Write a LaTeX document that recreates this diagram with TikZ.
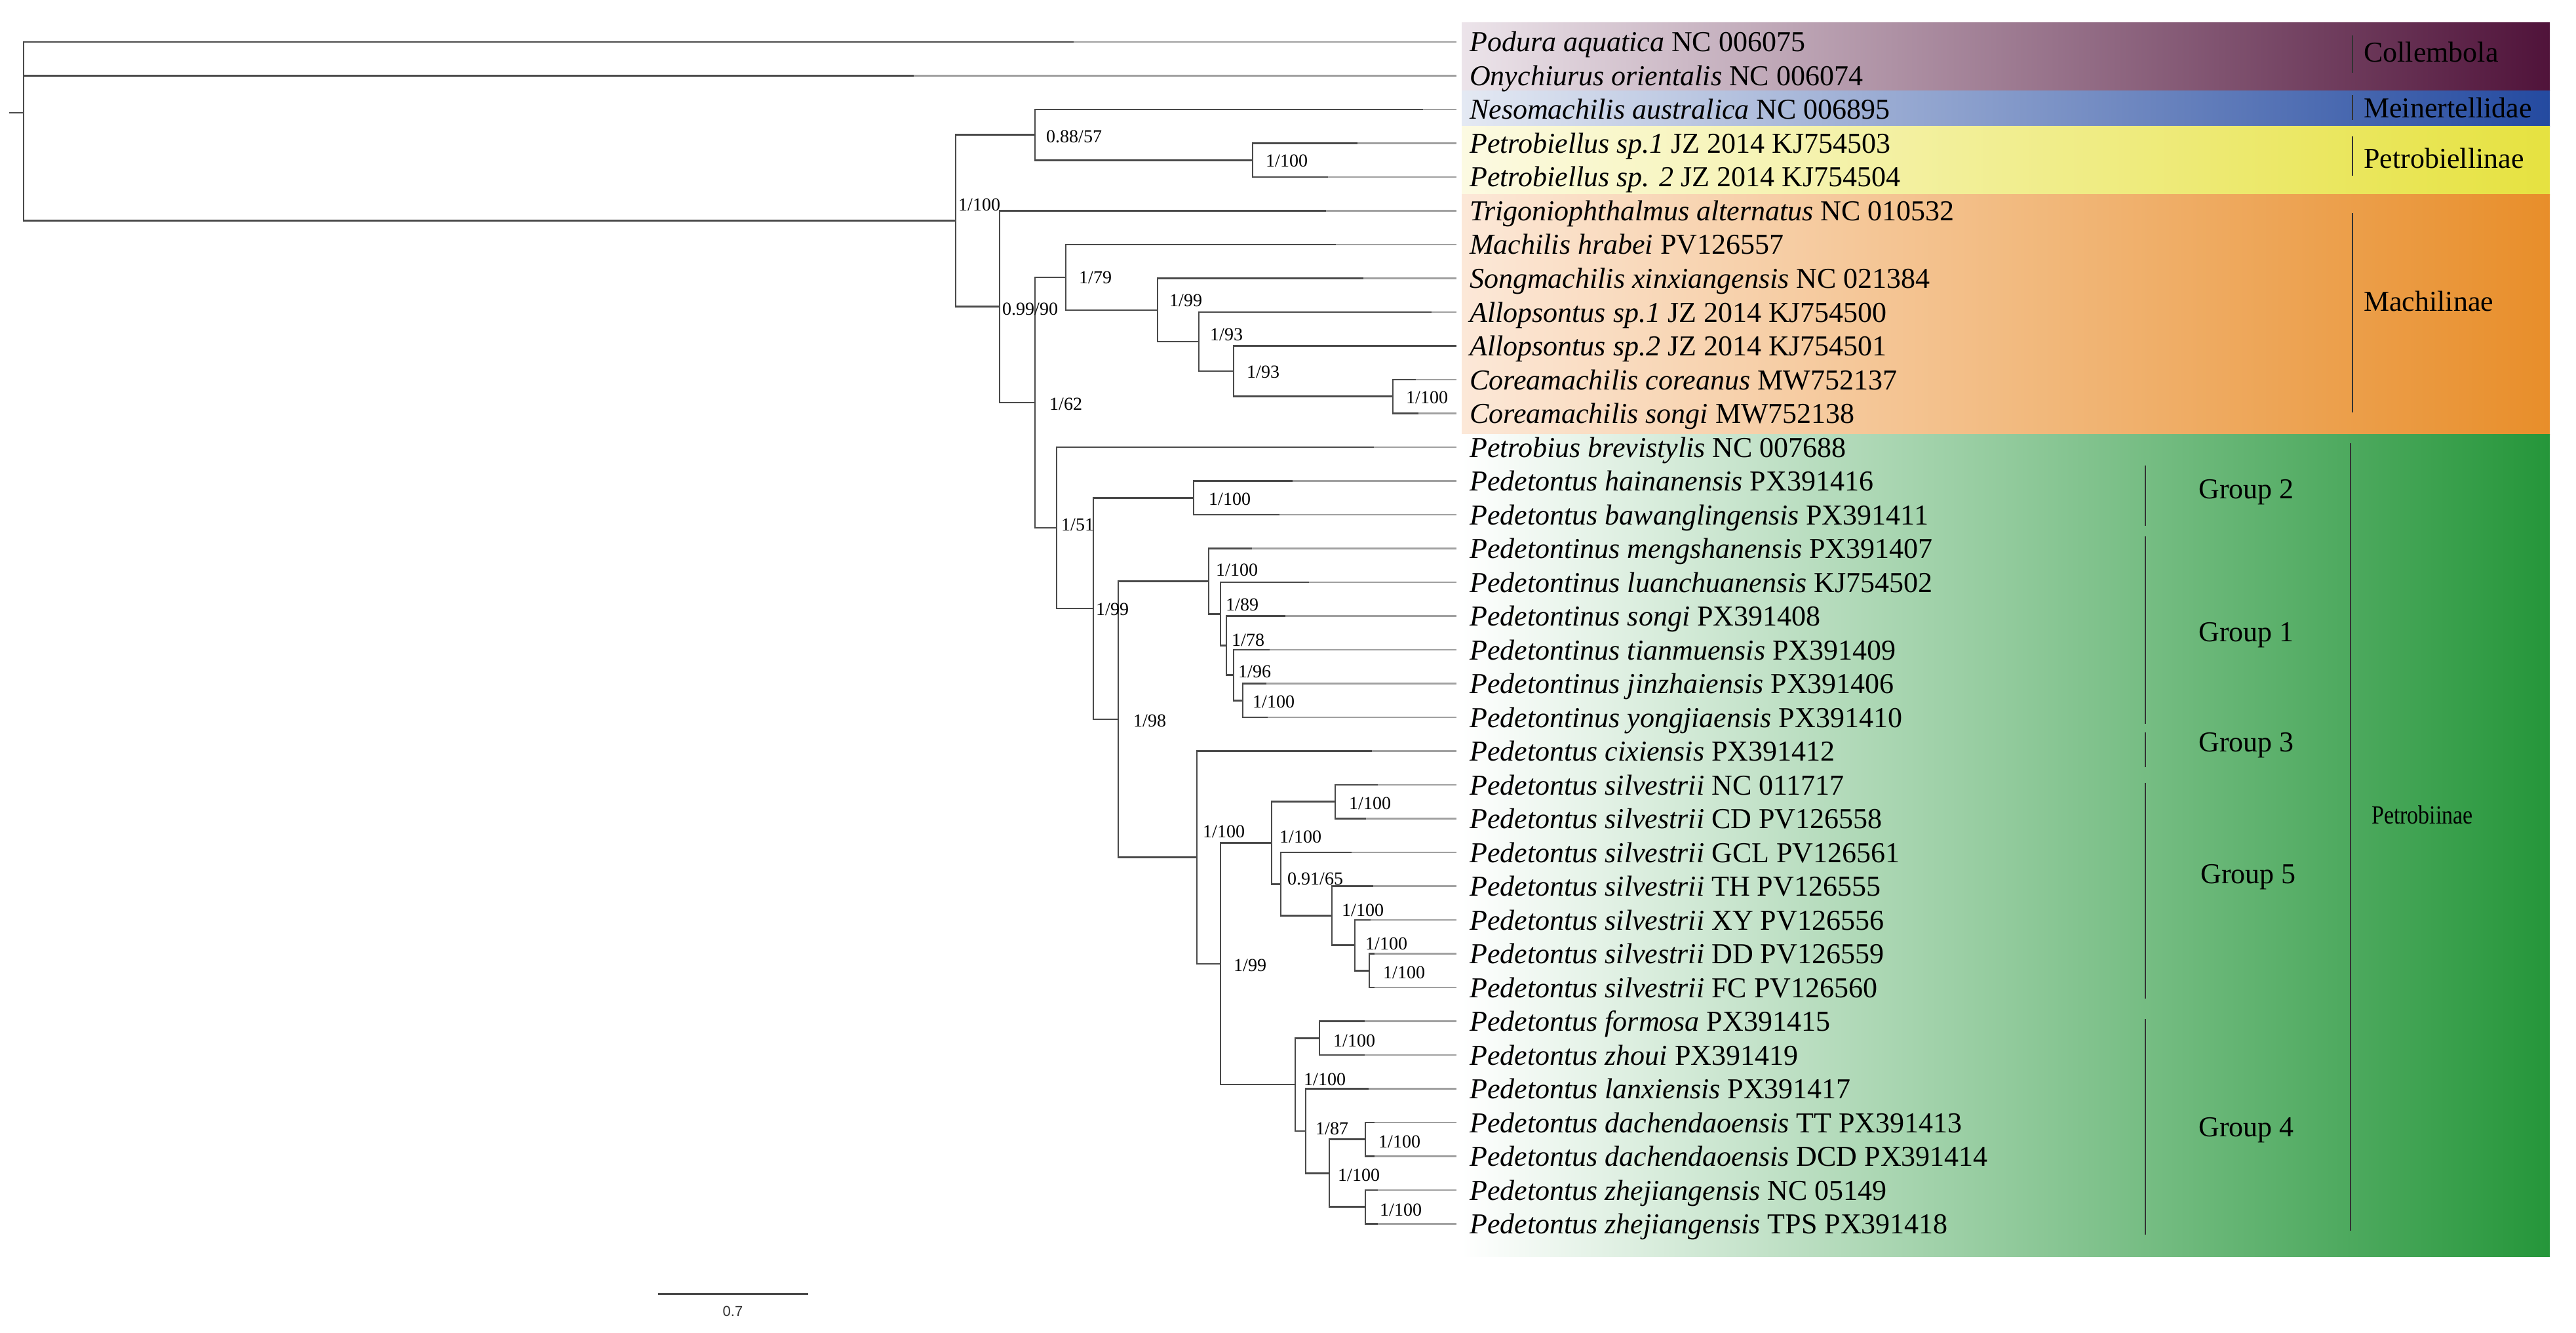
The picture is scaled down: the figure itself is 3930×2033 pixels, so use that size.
\documentclass[tikz,border=0pt]{standalone}
\usepackage{fontspec}
\setmainfont{Liberation Serif}
\newfontfamily\sansf{Liberation Sans}
\definecolor{brc}{HTML}{4A4A4A}
\definecolor{extc}{HTML}{A0A0A0}
\definecolor{colL}{HTML}{ECE4EA}\definecolor{colR}{HTML}{50133A}
\definecolor{meiL}{HTML}{E4E9F3}\definecolor{meiR}{HTML}{244AA0}
\definecolor{pblL}{HTML}{FCFAE2}\definecolor{pblR}{HTML}{E6E240}
\definecolor{macL}{HTML}{FCE8D8}\definecolor{macR}{HTML}{E88E2A}
\definecolor{ptbL}{HTML}{FFFFFF}\definecolor{ptbR}{HTML}{25963A}
\tikzset{
  br/.style={draw=brc,line width=2.6pt,line cap=rect},
  ext/.style={draw=extc,line width=2.4pt},
  taxon/.style={anchor=base west,inner xsep=20pt,inner ysep=0pt,font=\fontsize{44}{50}\selectfont},
  bsup/.style={anchor=west,inner sep=0pt,font=\fontsize{28}{32}\selectfont},
  cbar/.style={draw=black!80,line width=2pt},
  clab/.style={anchor=base west,inner sep=0pt,font=\fontsize{44}{50}\selectfont},
  glab/.style={anchor=base,inner sep=0pt,font=\fontsize{44}{50}\selectfont},
  sbar/.style={draw=brc,line width=3pt},
}
\newcommand\mytip[5]{%
  \coordinate (#1) at (#3,#2);
  \node[taxon] (#1l) at (2222,#2+15) {\textit{#4} #5};
  \draw[ext] (#1) -- (#1l.west |- #1);
}
\newcommand\brn[2]{\draw[br] (#1) |- (#2);}
\begin{document}
\begin{tikzpicture}[x=1pt,y=-1pt]
\useasboundingbox (0,0) rectangle (3930,2033);
% ---------- coloured bands ----------
\shade[left color=colL,right color=colR] (2230,35) rectangle (3890,139);
\shade[left color=meiL,right color=meiR] (2230,139) rectangle (3890,193.5);
\shade[left color=pblL,right color=pblR] (2230,193) rectangle (3890,297.5);
\shade[left color=macL,right color=macR] (2230,297) rectangle (3890,662.5);
\shade[left color=ptbL,right color=ptbR] (2230,662) rectangle (3890,1916);
% ---------- tips ----------
\mytip{t1}{64}{1637}{Podura aquatica}{NC 006075}
\mytip{t2}{115.5}{1393}{Onychiurus orientalis}{NC 006074}
\mytip{t3}{167}{2170}{Nesomachilis australica}{NC 006895}
\mytip{t4}{218.5}{2070}{Petrobiellus sp.1}{JZ 2014 KJ754503}
\mytip{t5}{270}{2025}{Petrobiellus sp. 2}{JZ 2014 KJ754504}
\mytip{t6}{321.5}{2022}{Trigoniophthalmus alternatus}{NC 010532}
\mytip{t7}{373}{2037}{Machilis hrabei}{PV126557}
\mytip{t8}{424.5}{2079}{Songmachilis xinxiangensis}{NC 021384}
\mytip{t9}{476}{2183}{Allopsontus sp.1}{JZ 2014 KJ754500}
\mytip{t10}{527.5}{2221}{Allopsontus sp.2}{JZ 2014 KJ754501}
\mytip{t11}{579}{2159}{Coreamachilis coreanus}{MW752137}
\mytip{t12}{630.5}{2163}{Coreamachilis songi}{MW752138}
\mytip{t13}{682}{2095}{Petrobius brevistylis}{NC 007688}
\mytip{t14}{733.5}{1971}{Pedetontus hainanensis}{PX391416}
\mytip{t15}{785}{1951}{Pedetontus bawanglingensis}{PX391411}
\mytip{t16}{836.5}{1909}{Pedetontinus mengshanensis}{PX391407}
\mytip{t17}{888}{1996}{Pedetontinus luanchuanensis}{KJ754502}
\mytip{t18}{939.5}{1960}{Pedetontinus songi}{PX391408}
\mytip{t19}{991}{1936}{Pedetontinus tianmuensis}{PX391409}
\mytip{t20}{1042.5}{1931}{Pedetontinus jinzhaiensis}{PX391406}
\mytip{t21}{1094}{1933}{Pedetontinus yongjiaensis}{PX391410}
\mytip{t22}{1145.5}{2092}{Pedetontus cixiensis}{PX391412}
\mytip{t23}{1197}{2101}{Pedetontus silvestrii}{NC 011717}
\mytip{t24}{1248.5}{2083}{Pedetontus silvestrii}{CD PV126558}
\mytip{t25}{1300}{2061}{Pedetontus silvestrii}{GCL PV126561}
\mytip{t26}{1351.5}{2094}{Pedetontus silvestrii}{TH PV126555}
\mytip{t27}{1403}{2090}{Pedetontus silvestrii}{XY PV126556}
\mytip{t28}{1454.5}{2096}{Pedetontus silvestrii}{DD PV126559}
\mytip{t29}{1506}{2096}{Pedetontus silvestrii}{FC PV126560}
\mytip{t30}{1557.5}{2081}{Pedetontus formosa}{PX391415}
\mytip{t31}{1609}{2081}{Pedetontus zhoui}{PX391419}
\mytip{t32}{1660.5}{2087}{Pedetontus lanxiensis}{PX391417}
\mytip{t33}{1712}{2096}{Pedetontus dachendaoensis}{TT PX391413}
\mytip{t34}{1763.5}{2096}{Pedetontus dachendaoensis}{DCD PX391414}
\mytip{t35}{1815}{2101}{Pedetontus zhejiangensis}{NC 05149}
\mytip{t36}{1866.5}{2101}{Pedetontus zhejiangensis}{TPS PX391418}
% ---------- internal nodes ----------
\coordinate (r0) at (15,172);
\coordinate (root) at (36,172);
\coordinate (N1) at (1458,336.7);
\coordinate (N2) at (1579,205.6);
\coordinate (N4) at (1911,244.25);
\coordinate (N3) at (1525,467.75);
\coordinate (N5) at (1579,614);
\coordinate (N6) at (1626,422.9);
\coordinate (N8) at (1766,472.8);
\coordinate (N9) at (1829,521.1);
\coordinate (N10) at (1882,566.1);
\coordinate (N11) at (2125,604.75);
\coordinate (N7) at (1612,805.1);
\coordinate (N12) at (1668,928.1);
\coordinate (N13) at (1821,759.25);
\coordinate (N14) at (1706,1097);
\coordinate (N15) at (1844,886.4);
\coordinate (N17) at (1862,936.3);
\coordinate (N18) at (1871,984.6);
\coordinate (N19) at (1882,1029.6);
\coordinate (N20) at (1896,1068.25);
\coordinate (N16) at (1826,1307.6);
\coordinate (N21) at (1862,1469.8);
\coordinate (N22) at (1940,1285.5);
\coordinate (N24) at (2037,1222.75);
\coordinate (N25) at (1954,1348.3);
\coordinate (N26) at (2032,1396.6);
\coordinate (N27) at (2067,1441.6);
\coordinate (N28) at (2089,1480.25);
\coordinate (N23) at (1976,1654.1);
\coordinate (N29) at (2013,1583.25);
\coordinate (N30) at (1992,1724.9);
\coordinate (N31) at (2028,1789.25);
\coordinate (N32) at (2083,1737.75);
\coordinate (N33) at (2083,1840.75);
% ---------- branches ----------
\draw[br] (r0) -- (root);
\brn{root}{t1}\brn{root}{t2}\brn{root}{N1}
\brn{N1}{N2}\brn{N1}{N3}
\brn{N2}{t3}\brn{N2}{N4}
\brn{N4}{t4}\brn{N4}{t5}
\brn{N3}{t6}\brn{N3}{N5}
\brn{N5}{N6}\brn{N5}{N7}
\brn{N6}{t7}\brn{N6}{N8}
\brn{N8}{t8}\brn{N8}{N9}
\brn{N9}{t9}\brn{N9}{N10}
\brn{N10}{t10}\brn{N10}{N11}
\brn{N11}{t11}\brn{N11}{t12}
\brn{N7}{t13}\brn{N7}{N12}
\brn{N12}{N13}\brn{N12}{N14}
\brn{N13}{t14}\brn{N13}{t15}
\brn{N14}{N15}\brn{N14}{N16}
\brn{N15}{t16}\brn{N15}{N17}
\brn{N17}{t17}\brn{N17}{N18}
\brn{N18}{t18}\brn{N18}{N19}
\brn{N19}{t19}\brn{N19}{N20}
\brn{N20}{t20}\brn{N20}{t21}
\brn{N16}{t22}\brn{N16}{N21}
\brn{N21}{N22}\brn{N21}{N23}
\brn{N22}{N24}\brn{N22}{N25}
\brn{N24}{t23}\brn{N24}{t24}
\brn{N25}{t25}\brn{N25}{N26}
\brn{N26}{t26}\brn{N26}{N27}
\brn{N27}{t27}\brn{N27}{N28}
\brn{N28}{t28}\brn{N28}{t29}
\brn{N23}{N29}\brn{N23}{N30}
\brn{N29}{t30}\brn{N29}{t31}
\brn{N30}{t32}\brn{N30}{N31}
\brn{N31}{N32}\brn{N31}{N33}
\brn{N32}{t33}\brn{N32}{t34}
\brn{N33}{t35}\brn{N33}{t36}
% ---------- support values ----------
\node[bsup] (s1) at (1462,312) {1/100};
\node[bsup] (s2) at (1596,208) {0.88/57};
\node[bsup] (s4) at (1931,245) {1/100};
\node[bsup] (s3) at (1529,471) {0.99/90};
\node[bsup] (s5) at (1601,616) {1/62};
\node[bsup] (s6) at (1646,423) {1/79};
\node[bsup] (s8) at (1784,458) {1/99};
\node[bsup] (s9) at (1846,510) {1/93};
\node[bsup] (s10) at (1902,567) {1/93};
\node[bsup] (s11) at (2145,606) {1/100};
\node[bsup] (s7) at (1619,800) {1/51};
\node[bsup] (s12) at (1672,929) {1/99};
\node[bsup] (s13) at (1844,761) {1/100};
\node[bsup] (s14) at (1729,1099) {1/98};
\node[bsup] (s15) at (1855,869) {1/100};
\node[bsup] (s17) at (1870,922) {1/89};
\node[bsup] (s18) at (1879,976) {1/78};
\node[bsup] (s19) at (1889,1024) {1/96};
\node[bsup] (s20) at (1911,1070) {1/100};
\node[bsup] (s16) at (1835,1268) {1/100};
\node[bsup] (s24) at (2058,1225) {1/100};
\node[bsup] (s22) at (1952,1276) {1/100};
\node[bsup] (s25) at (1964,1340) {0.91/65};
\node[bsup] (s21) at (1882,1472) {1/99};
\node[bsup] (s26) at (2047,1388) {1/100};
\node[bsup] (s27) at (2083,1439) {1/100};
\node[bsup] (s28) at (2110,1483) {1/100};
\node[bsup] (s23) at (1989,1646) {1/100};
\node[bsup] (s29) at (2034,1587) {1/100};
\node[bsup] (s30) at (2007,1721) {1/87};
\node[bsup] (s31) at (2041,1792) {1/100};
\node[bsup] (s32) at (2103,1741) {1/100};
\node[bsup] (s33) at (2105,1845) {1/100};
% ---------- clade bars and labels ----------
\draw[cbar] (3589,54) -- (3589,111);
\draw[cbar] (3589,145) -- (3589,183);
\draw[cbar] (3589,208) -- (3589,268);
\draw[cbar] (3589,325) -- (3589,629);
\draw[cbar] (3586,676) -- (3586,1877);
\draw[cbar] (3273,710) -- (3273,802);
\draw[cbar] (3273,818) -- (3273,1104);
\draw[cbar] (3273,1117) -- (3273,1170);
\draw[cbar] (3273,1194) -- (3273,1523);
\draw[cbar] (3273,1554) -- (3273,1883);
\node[clab] (c1) at (3606,95) {Collembola};
\node[clab] (c2) at (3606,180) {Meinertellidae};
\node[clab] (c3) at (3606,257) {Petrobiellinae};
\node[clab] (c4) at (3606,474) {Machilinae};
\node[clab,font=\fontsize{40}{46}\selectfont,xscale=0.85] (c5) at (3618,1256) {Petrobiinae};
\node[glab] (g2) at (3427,760) {Group 2};
\node[glab] (g1) at (3427,978) {Group 1};
\node[glab] (g3) at (3427,1146) {Group 3};
\node[glab] (g5) at (3430,1347) {Group 5};
\node[glab] (g4) at (3427,1733) {Group 4};
% ---------- scale bar ----------
\coordinate (sb1) at (1004,1973);
\coordinate (sb2) at (1233,1973);
\draw[sbar] (sb1) -- (sb2);
\node[font=\sansf\fontsize{22}{26}\selectfont,text=black!80,inner sep=0pt] (sbl) at (1118,2000) {0.7};
\end{tikzpicture}
\end{document}
